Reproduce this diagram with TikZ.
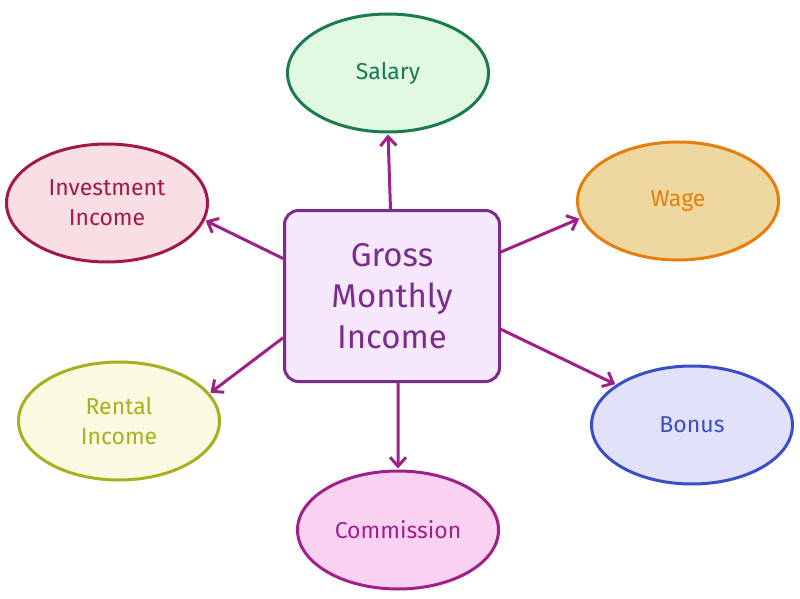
\documentclass[tikz,border=0pt]{standalone}
\usepackage{fontspec}
\setmainfont{Fira Sans}
\usetikzlibrary{shapes.geometric,arrows.meta}

\definecolor{gmiline}{HTML}{7B2D8F}
\definecolor{gmifill}{HTML}{F7E7FA}
\definecolor{salline}{HTML}{1A7A50}
\definecolor{salfill}{HTML}{E1F8E1}
\definecolor{invline}{HTML}{A3184A}
\definecolor{invfill}{HTML}{F9DFE3}
\definecolor{wagline}{HTML}{E67E0A}
\definecolor{wagfill}{HTML}{EFD89F}
\definecolor{renline}{HTML}{A8B020}
\definecolor{renfill}{HTML}{FAFAE1}
\definecolor{bonline}{HTML}{3A4EC8}
\definecolor{bonfill}{HTML}{E1E1F9}
\definecolor{comline}{HTML}{A0208A}
\definecolor{comfill}{HTML}{F9D2F1}
\definecolor{linkcol}{HTML}{A0208A}

\tikzset{
  bubble/.style={ellipse,line width=3pt,minimum width=201pt,minimum height=118pt,
    inner sep=0pt,align=center,font=\fontsize{23pt}{30pt}\selectfont},
  link/.style={draw=linkcol,line width=3pt,line cap=round,
    -{Straight Barb[length=9pt,width=16pt,line width=3pt]},shorten >=1pt}
}

\begin{document}
\begin{tikzpicture}
  [x=1pt,y=-1pt]
  \useasboundingbox (0,0) rectangle (800,599);

  % centre
  \node (gmi) [draw=gmiline,fill=gmifill,line width=3pt,rounded corners=14pt,
    minimum width=215pt,minimum height=171pt,align=center,text=gmiline,
    font=\fontsize{33pt}{41pt}\selectfont] at (392,296) {Gross\\Monthly\\Income};

  % income sources
  \node (sal) [bubble,draw=salline,fill=salfill,text=salline] at (388,73) {Salary};
  \node (inv) [bubble,draw=invline,fill=invfill,text=invline] at (107,203) {Investment\\Income};
  \node (wag) [bubble,draw=wagline,fill=wagfill,text=wagline] at (678,201) {Wage};
  \node (ren) [bubble,draw=renline,fill=renfill,text=renline] at (119,421) {Rental\\Income};
  \node (bon) [bubble,draw=bonline,fill=bonfill,text=bonline] at (692,425) {Bonus};
  \node (com) [bubble,draw=comline,fill=comfill,text=comline] at (398,530) {Commission};

  % arrows
  \draw[link] (gmi.91) -- (sal.south);
  \draw[link] (gmi.161) -- (inv.-10);
  \draw[link] (gmi.22) -- (wag.-170);
  \draw[link] (gmi.201) -- (ren.17);
  \draw[link] (gmi.-17) -- (bon.152);
  \draw[link] (gmi.-86) -- (com.north);
\end{tikzpicture}
\end{document}
